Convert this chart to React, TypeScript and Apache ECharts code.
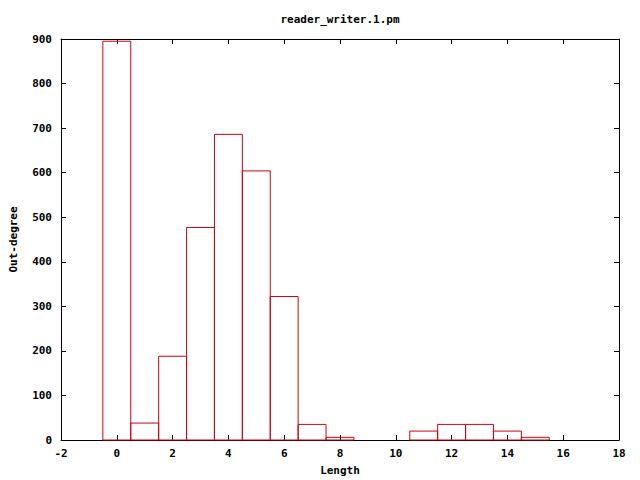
import React, { useEffect, useRef } from "react";
import * as echarts from "echarts";

const lengths = [0, 1, 2, 3, 4, 5, 6, 7, 8, 11, 12, 13, 14, 15];
const outDegree = [895, 38, 188, 477, 686, 604, 322, 35, 6, 20, 35, 35, 20, 6];
const xTicks = { min: -2, max: 18, interval: 2 };
const yTicks = { min: 0, max: 900, interval: 100 };
const title = "reader_writer.1.pm";
const xName = "Length";
const yName = "Out-degree";

const FONT = "DejaVu Sans Mono";
const RED = "#d00010";

export default function App() {
  const ref = useRef<HTMLDivElement>(null);
  useEffect(() => {
    document.body.style.margin = "0";
    const chart = echarts.init(ref.current!, undefined, { renderer: "svg" });
    const labelStyle = { fontFamily: FONT, fontSize: 11, fontWeight: "bold", color: "#000" };
    const lineStyle = { color: "#000", width: 1 };
    const axisLine = { show: true, onZero: false, lineStyle };
    const axisTick = { show: true, inside: true, length: 5, lineStyle };
    chart.setOption({
      animation: false,
      backgroundColor: "#fff",
      graphic: [
        {
          type: "text",
          x: 340,
          y: 19,
          style: {
            text: title,
            fontFamily: FONT,
            fontSize: 11,
            fontWeight: "bold",
            fill: "#000",
            align: "center",
            verticalAlign: "middle",
          },
        },
      ],
      grid: { left: 61, right: 21, top: 39, bottom: 40, containLabel: false, outerBoundsMode: "none" },
      xAxis: [
        {
          type: "value",
          min: xTicks.min,
          max: xTicks.max,
          interval: xTicks.interval,
          position: "bottom",
          name: xName,
          nameLocation: "middle",
          nameGap: 25,
          nameTextStyle: labelStyle,
          axisLine,
          axisTick,
          axisLabel: { ...labelStyle, margin: 8 },
          splitLine: { show: false },
        },
        {
          type: "value",
          min: xTicks.min,
          max: xTicks.max,
          interval: xTicks.interval,
          position: "top",
          axisLine,
          axisTick,
          axisLabel: { show: false },
          splitLine: { show: false },
        },
      ],
      yAxis: [
        {
          type: "value",
          min: yTicks.min,
          max: yTicks.max,
          interval: yTicks.interval,
          position: "left",
          name: yName,
          nameLocation: "middle",
          nameGap: 42,
          nameRotate: 90,
          nameTextStyle: labelStyle,
          axisLine,
          axisTick,
          axisLabel: { ...labelStyle, margin: 9 },
          splitLine: { show: false },
        },
        {
          type: "value",
          min: yTicks.min,
          max: yTicks.max,
          interval: yTicks.interval,
          position: "right",
          axisLine,
          axisTick,
          axisLabel: { show: false },
          splitLine: { show: false },
        },
      ],
      series: [
        {
          type: "custom",
          xAxisIndex: 0,
          yAxisIndex: 0,
          data: lengths.map((x, i) => [x, outDegree[i]]),
          renderItem: (params: any, api: any) => {
            const x = api.value(0);
            const y = api.value(1);
            const p1 = api.coord([x - 0.5, y]);
            const p2 = api.coord([x + 0.5, 0]);
            return {
              type: "rect",
              shape: { x: p1[0], y: p1[1], width: p2[0] - p1[0], height: p2[1] - p1[1] },
              style: { fill: "none", stroke: RED, lineWidth: 1 },
            };
          },
        },
      ],
    });
    return () => chart.dispose();
  }, []);
  return <div ref={ref} style={{ width: 640, height: 480 }} />;
}
